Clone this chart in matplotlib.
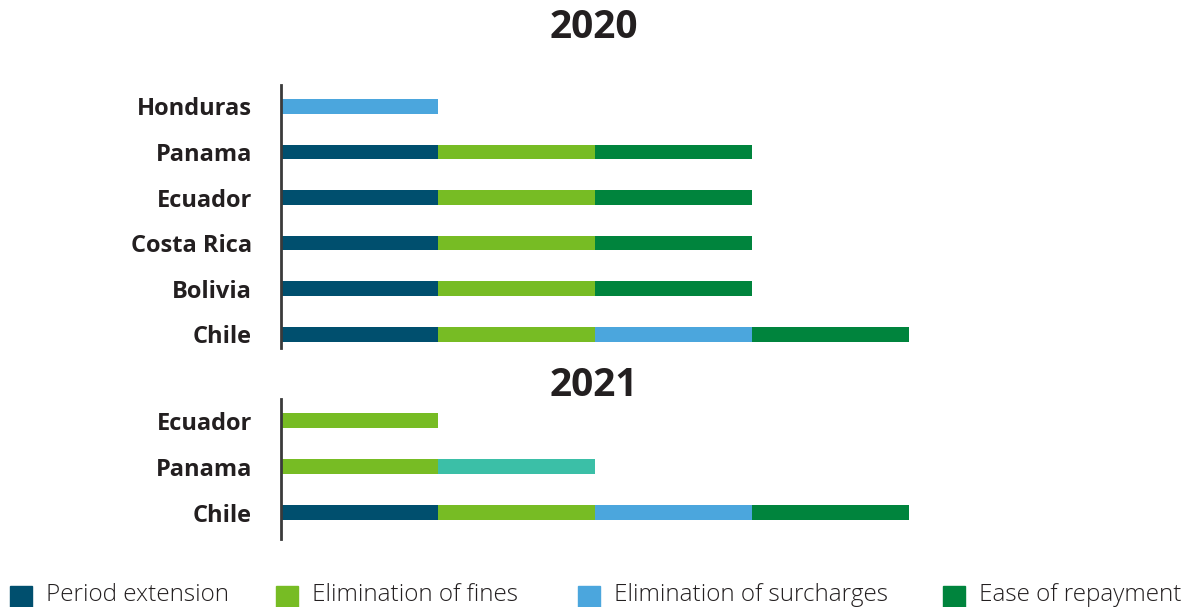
import matplotlib.pyplot as plt
from matplotlib.patches import Rectangle

# categories (bottom to top) and which measures each country adopted
countries_2020 = ["Chile", "Bolivia", "Costa Rica", "Ecuador", "Panama", "Honduras"]
countries_2021 = ["Chile", "Panama", "Ecuador"]

measures = ["Period extension", "Elimination of fines", "Elimination of surcharges",
            "Ease of repayment", "Other"]
colors = ["#004f6e", "#77bc24", "#4ba6dd", "#00843d", "#3bbfa7"]

period_2020 = [1, 1, 1, 1, 1, 0]
fines_2020 = [1, 1, 1, 1, 1, 0]
surcharges_2020 = [1, 0, 0, 0, 0, 1]
repayment_2020 = [1, 1, 1, 1, 1, 0]
other_2020 = [0, 0, 0, 0, 0, 0]

period_2021 = [1, 0, 0]
fines_2021 = [1, 1, 1]
surcharges_2021 = [1, 0, 0]
repayment_2021 = [1, 0, 0]
other_2021 = [0, 1, 0]

W, H = 1192, 607
plt.rcParams['font.family'] = ['Open Sans', 'DejaVu Sans']
fig = plt.figure(figsize=(W / 100, H / 100), dpi=100)


def px_axes(left, top, right, bottom):
    return fig.add_axes([left / W, 1 - bottom / H, (right - left) / W, (bottom - top) / H])


def draw(ax, countries, series, ylim, title, title_y):
    left = [0] * len(countries)
    for vals, col in zip(series, colors):
        ax.barh(range(len(countries)), vals, left=left, height=0.32, color=col)
        left = [l + v for l, v in zip(left, vals)]
    ax.set_xlim(0, 5.8)
    ax.set_ylim(*ylim)
    ax.set_yticks(range(len(countries)))
    ax.set_yticklabels(countries, fontsize=17, fontweight='bold', color='#231f20')
    ax.tick_params(axis='y', length=0, pad=21)
    ax.set_xticks([])
    for s in ['top', 'right', 'bottom']:
        ax.spines[s].set_visible(False)
    ax.spines['left'].set_color('#3a3a3a')
    ax.spines['left'].set_linewidth(2)
    fig.text(594 / W, 1 - title_y / H, title, ha='center', va='center',
             fontsize=28, fontweight='bold', color='#231f20')


ax1 = px_axes(281, 85, 1192, 348)
draw(ax1, countries_2020,
     [period_2020, fines_2020, surcharges_2020, repayment_2020, other_2020],
     (-0.3, 5.47), "2020", 27)

ax2 = px_axes(281, 399, 1192, 539)
draw(ax2, countries_2021,
     [period_2021, fines_2021, surcharges_2021, repayment_2021, other_2021],
     (-0.57, 2.47), "2021", 386)

# legend along the bottom edge
legend_x = [10, 276, 578, 943]
for x, name, col in zip(legend_x, measures[:4], colors[:4]):
    fig.patches.append(Rectangle((x / W, 1 - 608 / H), 22 / W, 22 / H,
                                 transform=fig.transFigure, color=col))
    fig.text((x + 36) / W, 1 - 601 / H, name, ha='left', va='baseline',
             fontsize=17.5, fontweight='light', color='#231f20')

fig.savefig("out.png", dpi=100)
